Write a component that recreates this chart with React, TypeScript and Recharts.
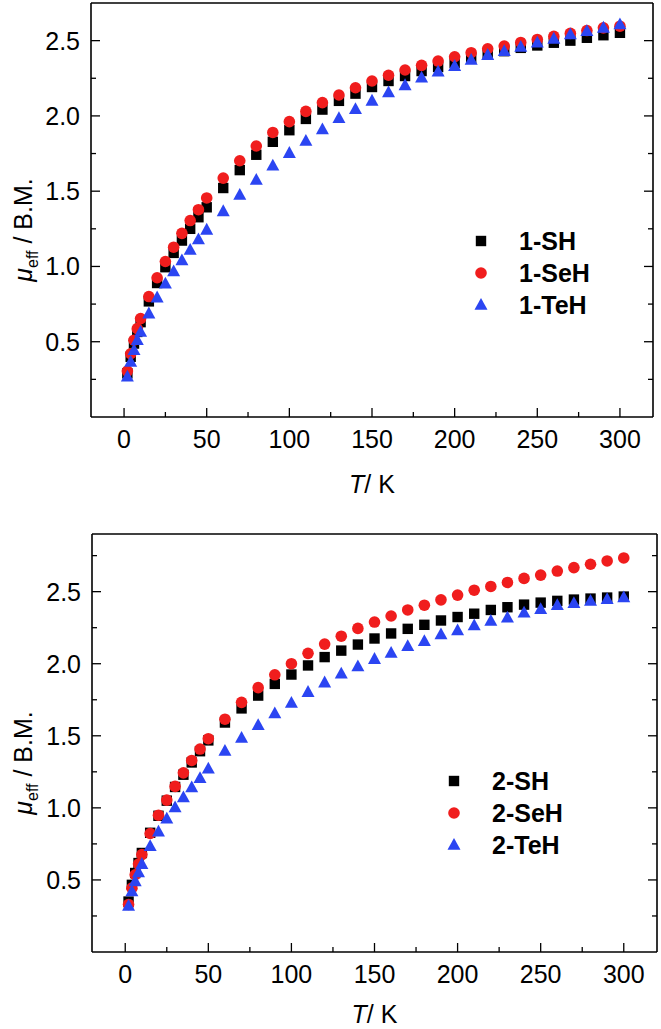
import { ScatterChart, Scatter, XAxis, YAxis, Legend } from 'recharts'

const FONT = '"Liberation Sans", Arial, Helvetica, sans-serif'
const RED = '#f01d1d'
const BLUE = '#2b45f2'

// temperatures shared by every series (K)
const temps = [2, 4, 6, 8, 10, 15, 20, 25, 30, 35, 40, 45, 50, 60, 70, 80, 90, 100,
  110, 120, 130, 140, 150, 160, 170, 180, 190, 200, 210, 220, 230, 240, 250, 260, 270, 280, 290, 300]

// upper panel, mu_eff (B.M.)
const sh1 = [0.29, 0.4, 0.488, 0.565, 0.63, 0.768, 0.89, 0.995, 1.09, 1.172, 1.25, 1.327, 1.393, 1.521, 1.64, 1.742, 1.828, 1.905,
  1.98, 2.042, 2.1, 2.148, 2.192, 2.232, 2.265, 2.298, 2.325, 2.353, 2.382, 2.408, 2.43, 2.452, 2.468, 2.486, 2.5, 2.519, 2.536, 2.552]
const seh1 = [0.305, 0.42, 0.51, 0.587, 0.654, 0.8, 0.925, 1.033, 1.128, 1.22, 1.305, 1.377, 1.455, 1.587, 1.702, 1.8, 1.89, 1.962,
  2.03, 2.088, 2.139, 2.187, 2.232, 2.27, 2.305, 2.336, 2.364, 2.393, 2.42, 2.446, 2.464, 2.488, 2.508, 2.528, 2.548, 2.567, 2.585, 2.596]
const teh1 = [0.267, 0.366, 0.444, 0.51, 0.565, 0.687, 0.793, 0.885, 0.967, 1.04, 1.11, 1.179, 1.243, 1.366, 1.475, 1.574, 1.669, 1.753,
  1.834, 1.91, 1.985, 2.044, 2.1, 2.155, 2.203, 2.254, 2.293, 2.331, 2.371, 2.404, 2.43, 2.458, 2.486, 2.512, 2.541, 2.563, 2.585, 2.607]

// lower panel
const sh2 = [0.35, 0.466, 0.548, 0.617, 0.687, 0.827, 0.945, 1.05, 1.145, 1.23, 1.315, 1.393, 1.468, 1.592, 1.69, 1.779, 1.86, 1.925,
  1.988, 2.046, 2.091, 2.133, 2.175, 2.21, 2.242, 2.27, 2.3, 2.324, 2.347, 2.373, 2.392, 2.41, 2.424, 2.436, 2.445, 2.452, 2.459, 2.466]
const seh2 = [0.33, 0.443, 0.536, 0.61, 0.676, 0.822, 0.949, 1.054, 1.149, 1.243, 1.329, 1.408, 1.48, 1.615, 1.732, 1.834, 1.923, 2.0,
  2.072, 2.136, 2.191, 2.245, 2.289, 2.331, 2.373, 2.406, 2.443, 2.476, 2.51, 2.536, 2.564, 2.592, 2.615, 2.643, 2.667, 2.69, 2.713, 2.734]
const teh2 = [0.32, 0.42, 0.49, 0.552, 0.61, 0.734, 0.834, 0.925, 1.002, 1.072, 1.142, 1.205, 1.271, 1.394, 1.485, 1.573, 1.655, 1.727,
  1.803, 1.869, 1.93, 1.981, 2.032, 2.074, 2.121, 2.156, 2.203, 2.231, 2.266, 2.296, 2.319, 2.354, 2.378, 2.406, 2.42, 2.436, 2.448, 2.459]

const xTicks = [0, 25, 50, 75, 100, 125, 150, 175, 200, 225, 250, 275, 300]
const yTicksTop = [0.25, 0.5, 0.75, 1, 1.25, 1.5, 1.75, 2, 2.25, 2.5]
const yTicksBottom = [0.25, 0.5, 0.75, 1, 1.25, 1.5, 1.75, 2, 2.25, 2.5, 2.75]

type Shape = 'square' | 'circle' | 'triangle'
interface Series { name: string; values: number[]; color: string; shape: Shape }

const toPoints = (values: number[]) => temps.map((t, i) => ({ t, mu: values[i] }))

const MAJOR = 9
const MINOR = 5
const X_GAP = 31
const Y_GAP = 11

function Marker({ shape, cx, cy, color }: { shape: Shape; cx: number; cy: number; color: string }) {
  if (shape === 'square') return <rect x={cx - 5.2} y={cy - 5.2} width={10.4} height={10.4} fill={color} />
  if (shape === 'circle') return <circle cx={cx} cy={cy} r={5.8} fill={color} />
  return <polygon points={`${cx},${cy - 7} ${cx - 6.5},${cy + 4.8} ${cx + 6.5},${cy + 4.8}`} fill={color} />
}

const isMajorX = (v: number) => v % 50 === 0
const isMajorY = (v: number) => Math.abs(v * 2 - Math.round(v * 2)) < 1e-6

function BottomTick(props: any) {
  const { x, y, payload } = props
  const axisY = y - X_GAP
  const major = isMajorX(payload.value)
  return (
    <g>
      <line x1={x} x2={x} y1={axisY} y2={axisY - (major ? MAJOR : MINOR)} stroke="#000" strokeWidth={1.3} />
      {major && (
        <text x={x} y={y} textAnchor="middle" fontFamily={FONT} fontSize={25} fill="#000">{payload.value}</text>
      )}
    </g>
  )
}

function TopTick(props: any) {
  const { x, y, payload } = props
  const major = isMajorX(payload.value)
  return <line x1={x} x2={x} y1={y} y2={y + (major ? MAJOR : MINOR)} stroke="#000" strokeWidth={1.3} />
}

function LeftTick(props: any) {
  const { x, y, payload } = props
  const axisX = x + Y_GAP
  const major = isMajorY(payload.value)
  return (
    <g>
      <line x1={axisX} x2={axisX + (major ? MAJOR : MINOR)} y1={y} y2={y} stroke="#000" strokeWidth={1.3} />
      {major && (
        <text x={x} y={y + 9} textAnchor="end" fontFamily={FONT} fontSize={25} fill="#000">{payload.value.toFixed(1)}</text>
      )}
    </g>
  )
}

function RightTick(props: any) {
  const { x, y, payload } = props
  const major = isMajorY(payload.value)
  return <line x1={x} x2={x - (major ? MAJOR : MINOR)} y1={y} y2={y} stroke="#000" strokeWidth={1.3} />
}

function XTitle(props: any) {
  const vb = props.viewBox || {}
  const gap = props.gap ?? 76
  return (
    <text x={vb.x + vb.width / 2} y={vb.y + gap} textAnchor="middle" fontFamily={FONT} fontSize={25} fill="#000">
      <tspan fontStyle="italic">T</tspan>
      <tspan>/ K</tspan>
    </text>
  )
}

function YTitle(props: any) {
  const vb = props.viewBox || {}
  const cx = vb.x + 32
  const cy = vb.y + vb.height / 2 + 20
  return (
    <text x={cx} y={cy} transform={`rotate(-90 ${cx} ${cy})`} textAnchor="middle" fontFamily={FONT} fontSize={25} fill="#000">
      <tspan fontStyle="italic">μ</tspan>
      <tspan fontSize={16} dy={6}>eff</tspan>
      <tspan dy={-6}> / B.M.</tspan>
    </text>
  )
}

function LegendList({ series }: { series: Series[] }) {
  return (
    <div style={{ fontFamily: FONT, fontWeight: 'bold', fontSize: 25, color: '#000' }}>
      {series.map((s) => (
        <div key={s.name} style={{ display: 'flex', alignItems: 'center', height: 32 }}>
          <svg width={58} height={32}>
            <Marker shape={s.shape} cx={20} cy={16} color={s.color} />
          </svg>
          <span style={{ lineHeight: '32px' }}>{s.name}</span>
        </div>
      ))}
    </div>
  )
}

interface PanelProps {
  height: number
  topH: number
  bottomH: number
  leftW: number
  rightW: number
  yMax: number
  yTicks: number[]
  titleGap: number
  series: Series[]
  legendLeft: number
  legendTop: number
}

function Panel({ height, topH, bottomH, leftW, rightW, yMax, yTicks, titleGap, series, legendLeft, legendTop }: PanelProps) {
  const axisLine = { stroke: '#000', strokeWidth: 1.6 }
  return (
    <ScatterChart width={661} height={height} margin={{ top: 0, right: 0, bottom: 0, left: 0 }}>
      <XAxis xAxisId="b" dataKey="t" type="number" domain={[-20, 320]} allowDataOverflow ticks={xTicks} interval={0}
        height={bottomH} tickSize={0} tickMargin={X_GAP} tickLine={false} axisLine={axisLine} tick={<BottomTick />}
        label={<XTitle gap={titleGap} />} />
      <XAxis xAxisId="t" orientation="top" type="number" domain={[-20, 320]} allowDataOverflow ticks={xTicks} interval={0}
        height={topH} tickSize={0} tickMargin={0} tickLine={false} axisLine={axisLine} tick={<TopTick />} />
      <YAxis yAxisId="l" dataKey="mu" type="number" domain={[0, yMax]} allowDataOverflow ticks={yTicks} interval={0}
        width={leftW} tickSize={0} tickMargin={Y_GAP} tickLine={false} axisLine={axisLine} tick={<LeftTick />}
        label={<YTitle />} />
      <YAxis yAxisId="r" orientation="right" type="number" domain={[0, yMax]} allowDataOverflow ticks={yTicks} interval={0}
        width={rightW} tickSize={0} tickMargin={0} tickLine={false} axisLine={axisLine} tick={<RightTick />} />
      {series.map((s) => (
        <Scatter key={s.name} name={s.name} xAxisId="b" yAxisId="l" data={toPoints(s.values)} fill={s.color}
          isAnimationActive={false}
          shape={(p: any) => <Marker shape={s.shape} cx={p.cx} cy={p.cy} color={s.color} />} />
      ))}
      <Legend layout="vertical" align="center" verticalAlign="middle"
        wrapperStyle={{ left: legendLeft, top: legendTop, width: 'auto' }}
        content={() => <LegendList series={series} />} />
    </ScatterChart>
  )
}

const topSeries: Series[] = [
  { name: '1-SH', values: sh1, color: '#000', shape: 'square' },
  { name: '1-SeH', values: seh1, color: RED, shape: 'circle' },
  { name: '1-TeH', values: teh1, color: BLUE, shape: 'triangle' },
]

const bottomSeries: Series[] = [
  { name: '2-SH', values: sh2, color: '#000', shape: 'square' },
  { name: '2-SeH', values: seh2, color: RED, shape: 'circle' },
  { name: '2-TeH', values: teh2, color: BLUE, shape: 'triangle' },
]

export default function App() {
  return (
    <div style={{ position: 'absolute', left: 0, top: 0, width: 661, height: 1029, background: '#fff' }}>
      <div style={{ position: 'absolute', left: 0, top: 0 }}>
        <Panel height={520} topH={3} bottomH={103} leftW={91} rightW={8} yMax={2.75} yTicks={yTicksTop}
          titleGap={76} series={topSeries} legendLeft={461} legendTop={225} />
      </div>
      <div style={{ position: 'absolute', left: 0, top: 520 }}>
        <Panel height={509} topH={14} bottomH={77} leftW={92} rightW={4} yMax={2.9} yTicks={yTicksBottom}
          titleGap={71} series={bottomSeries} legendLeft={434} legendTop={245} />
      </div>
    </div>
  )
}
